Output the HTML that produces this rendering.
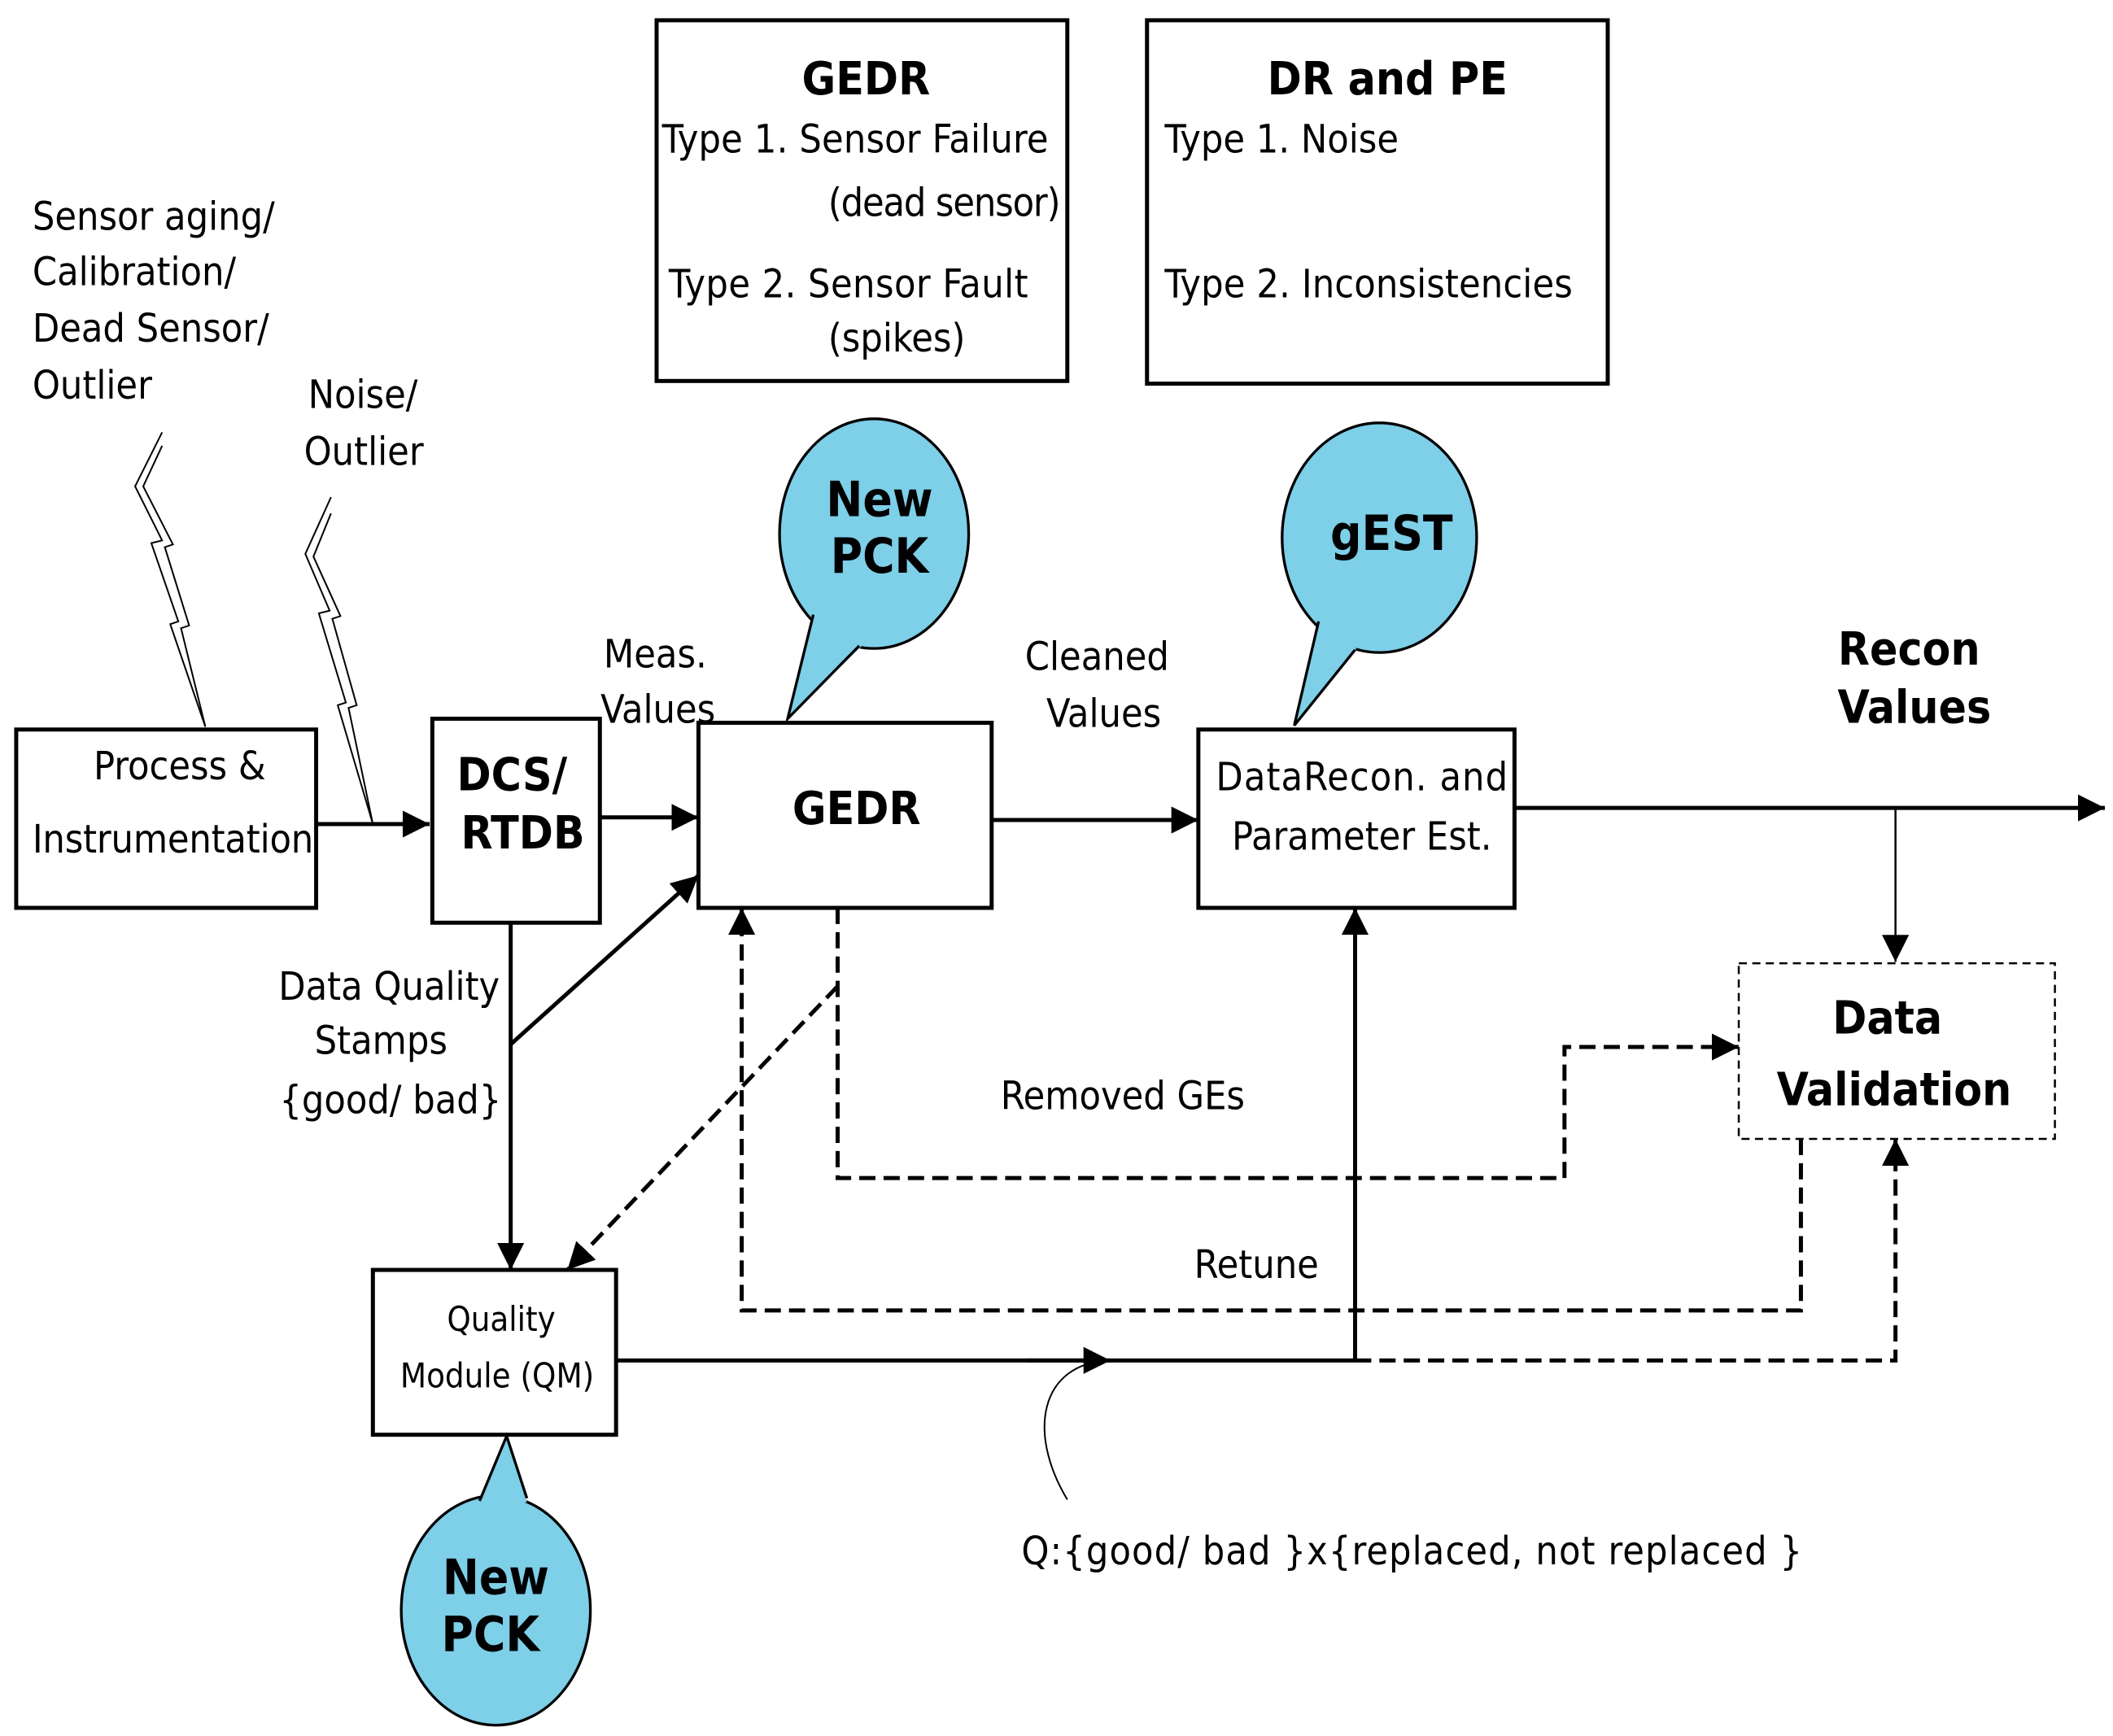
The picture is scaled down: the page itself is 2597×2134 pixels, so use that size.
<!DOCTYPE html>
<html><head><meta charset="utf-8"><style>
html,body{margin:0;padding:0;background:#fff}
svg{display:block}
text{font-family:"DejaVu Sans Condensed","Liberation Sans",sans-serif;fill:#000}
</style></head><body>
<svg width="2597" height="2134" viewBox="0 0 1564 1285" preserveAspectRatio="none" xmlns="http://www.w3.org/2000/svg">
<defs>
<marker id="A" viewBox="0 0 10 10" refX="10" refY="5" markerWidth="20" markerHeight="20" orient="auto" markerUnits="userSpaceOnUse"><path d="M0,0L10,5L0,10z" fill="#000"/></marker>
</defs>
<g fill="none" stroke="#000" stroke-width="3">
<rect x="486" y="15" width="304" height="267"/>
<rect x="849" y="15" width="341" height="269"/>
<rect x="12" y="540" width="222" height="132"/>
<rect x="320" y="532" width="124" height="151"/>
<rect x="517" y="535" width="217" height="137"/>
<rect x="887" y="540" width="234" height="132"/>
<rect x="276" y="940" width="180" height="122"/>
<rect x="1287" y="713" width="234" height="130" stroke-width="1.5" stroke-dasharray="6,4"/>
</g>
<g stroke="#000" stroke-width="2">
<ellipse cx="647" cy="395" rx="70" ry="85" fill="#7ecfe8"/>
<polygon points="602,452 583,532 638,478" fill="#7ecfe8" stroke="none"/>
<polyline points="602,455 583,532 636,478" fill="none"/>
<ellipse cx="1021" cy="398" rx="72" ry="85" fill="#7ecfe8"/>
<polygon points="976,458 958,537 1004,480" fill="#7ecfe8" stroke="none"/>
<polyline points="976,460 958,537 1003,481" fill="none"/>
<ellipse cx="367" cy="1192" rx="70" ry="85" fill="#7ecfe8"/>
<polygon points="355,1114 375,1063 390,1112" fill="#7ecfe8" stroke="none"/>
<polyline points="355,1111 375,1063 390,1109" fill="none"/>
</g>
<g fill="none" stroke="#000" stroke-width="1.2">
<path d="M120,320 L100,360 L120,400 L112,402 L132,460 L126,462 L152,538 L134,465 L140,463 L122,405 L128,403 L106,360 L120,330"/>
<path d="M245,368 L226,410 L244,452 L236,454 L256,520 L250,522 L276,610 L258,524 L264,522 L246,458 L252,456 L232,412 L245,380"/>
<path d="M790,1110 C760,1060 770,1010 820,1007"/>
</g>
<g fill="none" stroke="#000" stroke-width="3">
<path d="M234,610 L318,610" marker-end="url(#A)"/>
<path d="M444,605 L517,605" marker-end="url(#A)"/>
<path d="M734,607 L887,607" marker-end="url(#A)"/>
<path d="M1121,598 L1558,598" marker-end="url(#A)"/>
<path d="M378,683 L378,940" marker-end="url(#A)"/>
<path d="M378,773 L517,648" marker-end="url(#A)"/>
<path d="M456,1007 L1003,1007"/>
<path d="M760,1007 L822,1007" marker-end="url(#A)"/>
<path d="M1003,1007 L1003,672" marker-end="url(#A)"/>
</g>
<path d="M1403,598 L1403,712" stroke="#000" stroke-width="1.5" fill="none" marker-end="url(#A)"/>
<g fill="none" stroke="#000" stroke-width="3" stroke-dasharray="12,6">
<path d="M620,730 L420,940" marker-end="url(#A)"/>
<path d="M620,672 L620,872 L1158,872 L1158,775 L1287,775" marker-end="url(#A)"/>
<path d="M1333,843 L1333,970 L549,970 L549,672" marker-end="url(#A)"/>
<path d="M1003,1007 L1403,1007 L1403,843" marker-end="url(#A)"/>
</g>
<g font-size="29">
<text x="641" y="70" text-anchor="middle" font-weight="bold" font-size="34">GEDR</text>
<text x="490" y="113" textLength="286">Type 1. Sensor Failure</text>
<text x="613" y="160" textLength="172">(dead sensor)</text>
<text x="495" y="220" textLength="266">Type 2.  Sensor Fault</text>
<text x="613" y="260">(spikes)</text>
<text x="1027" y="70" text-anchor="middle" font-weight="bold" font-size="34">DR and PE</text>
<text x="862" y="113">Type 1. Noise</text>
<text x="862" y="220" textLength="302">Type 2. Inconsistencies</text>
<text x="24" y="170">Sensor aging/</text>
<text x="24" y="211">Calibration/</text>
<text x="24" y="253">Dead Sensor/</text>
<text x="24" y="295">Outlier</text>
<text x="228" y="302">Noise/</text>
<text x="225" y="344">Outlier</text>
<text x="485" y="494" text-anchor="middle">Meas.</text>
<text x="487" y="535" text-anchor="middle">Values</text>
<text x="812" y="496" text-anchor="middle">Cleaned</text>
<text x="817" y="538" text-anchor="middle">Values</text>
<text x="1413" y="492" text-anchor="middle" font-weight="bold" font-size="34">Recon</text>
<text x="1417" y="535" text-anchor="middle" font-weight="bold" font-size="34">Values</text>
<text x="133" y="577" text-anchor="middle">Process &amp;</text>
<text x="24" y="631" textLength="208">Instrumentation</text>
<text x="379" y="585" text-anchor="middle" font-weight="bold" font-size="34">DCS/</text>
<text x="387" y="628" text-anchor="middle" font-weight="bold" font-size="34">RTDB</text>
<text x="634" y="610" text-anchor="middle" font-weight="bold" font-size="34">GEDR</text>
<text x="900" y="585" textLength="216">DataRecon.  and</text>
<text x="1008" y="629" text-anchor="middle">Parameter Est.</text>
<text x="1397" y="765" text-anchor="middle" font-weight="bold" font-size="34">Data</text>
<text x="1402" y="818" text-anchor="middle" font-weight="bold" font-size="34">Validation</text>
<text x="288" y="740" text-anchor="middle">Data Quality</text>
<text x="282" y="780" text-anchor="middle">Stamps</text>
<text x="289" y="824" text-anchor="middle">{good/ bad}</text>
<text x="831" y="821" text-anchor="middle">Removed GEs</text>
<text x="930" y="946" text-anchor="middle">Retune</text>
<text x="371" y="985" text-anchor="middle" font-size="25">Quality</text>
<text x="368" y="1027" text-anchor="middle" font-size="25">Module (QM)</text>
<text x="756" y="1158" textLength="578">Q:{good/ bad }x{replaced, not replaced }</text>
<text x="651" y="382" text-anchor="middle" font-weight="bold" font-size="36">New</text>
<text x="651" y="424" text-anchor="middle" font-weight="bold" font-size="36">PCK</text>
<text x="1030" y="407" text-anchor="middle" font-weight="bold" font-size="36">gEST</text>
<text x="367" y="1180" text-anchor="middle" font-weight="bold" font-size="36">New</text>
<text x="363" y="1222" text-anchor="middle" font-weight="bold" font-size="36">PCK</text>
</g>
</svg>
</body></html>
